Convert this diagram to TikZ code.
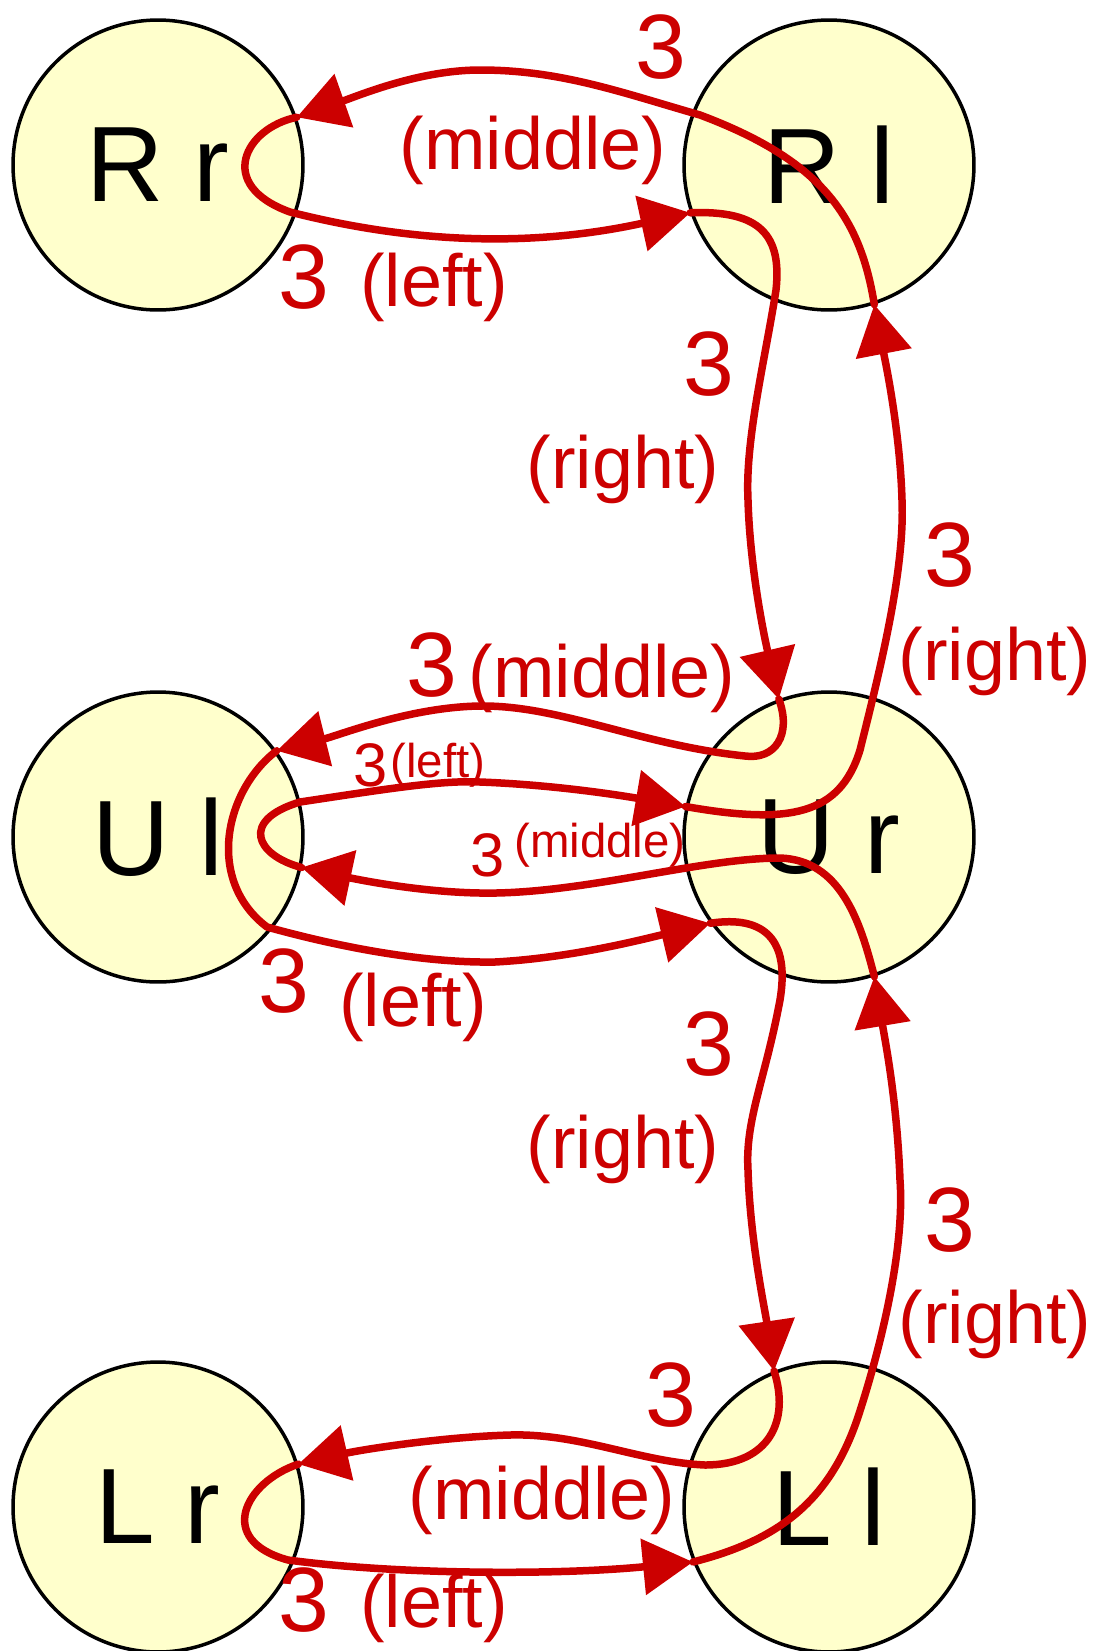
\documentclass[tikz,border=0pt]{standalone}
\usepackage{fontspec}
\setmainfont{Liberation Sans}
\usetikzlibrary{arrows.meta}
\definecolor{statefill}{HTML}{FFFFCC}
\definecolor{edgered}{HTML}{CC0000}
\tikzset{
  state/.style={circle, draw=black, line width=0.07cm, fill=statefill,
    minimum size=5.8cm, inner sep=0pt, font=\fontsize{61}{61}\selectfont},
  trans/.style={draw=edgered, line width=0.15cm,
    -{Triangle[length=1.0cm,width=1.1cm]}},
  num/.style={text=edgered, inner sep=0pt, font=\fontsize{52}{52}\selectfont},
  tag/.style={text=edgered, inner sep=0pt, font=\fontsize{42}{42}\selectfont},
  smallnum/.style={text=edgered, inner sep=0pt, font=\fontsize{35}{35}\selectfont},
  smalltag/.style={text=edgered, inner sep=0pt, font=\fontsize{27}{27}\selectfont},
}
\begin{document}
\begin{tikzpicture}[x=0.02cm, y=-0.02cm, line cap=round, line join=round]
	\useasboundingbox (0,0) rectangle (1103,1651);
	% states
	\node[state] (Rr) at (158,165) {R r};
	\node[state] (Rl) at (829,165) {R l};
	\node[state] (Ul) at (158,837) {U l};
	\node[state] (Ur) at (829,837) {U r};
	\node[state] (Lr) at (158,1507) {L r};
	\node[state] (Ll) at (829,1507) {L l};
	% transitions
	\draw[trans] (Rl.288) .. controls (860,215) and (820,160) .. (700,115)
		.. controls (620,92) and (560,70) .. (480,70)
		.. controls (420,70) and (360,95) .. (Rr.19);
	\draw[trans] (Rr.19) .. controls (245,128) and (215,185) .. (290,212)
		.. controls (400,240) and (520,250) .. (Rl.199);
	\draw[trans] (Rl.199) .. controls (760,210) and (782,235) .. (776,290)
		.. controls (765,360) and (745,440) .. (748,500)
		.. controls (750,570) and (765,640) .. (Ur.110);
	\draw[trans] (Ur.110) .. controls (792,735) and (775,760) .. (745,756)
		.. controls (640,745) and (560,705) .. (480,706)
		.. controls (410,707) and (340,735) .. (Ul.36);
	\draw[trans] (Ul.36) .. controls (225,790) and (205,880) .. (267,927)
		.. controls (350,950) and (430,963) .. (495,962)
		.. controls (570,958) and (640,940) .. (Ur.216);
	\draw[trans] (Ur.216) .. controls (765,915) and (790,940) .. (780,1000)
		.. controls (765,1080) and (745,1120) .. (748,1170)
		.. controls (750,1240) and (765,1310) .. (Ll.112);
	\draw[trans] (Ll.112) .. controls (790,1420) and (770,1465) .. (705,1465)
		.. controls (640,1462) and (580,1433) .. (510,1435)
		.. controls (440,1437) and (360,1450) .. (Lr.17);
	\draw[trans] (Lr.17) .. controls (245,1482) and (215,1540) .. (288,1560)
		.. controls (400,1575) and (560,1575) .. (Ll.202);
	\draw[trans] (Ll.202) .. controls (780,1540) and (830,1500) .. (858,1417)
		.. controls (880,1350) and (905,1250) .. (900,1180)
		.. controls (897,1100) and (885,1040) .. (Ur.288);
	\draw[trans] (Ur.288) .. controls (860,920) and (840,860) .. (780,858)
		.. controls (700,858) and (580,895) .. (480,893)
		.. controls (420,892) and (360,880) .. (Ul.348);
	\draw[trans] (Ul.348) .. controls (255,855) and (240,820) .. (300,802)
		.. controls (380,790) and (440,780) .. (480,782)
		.. controls (560,785) and (630,797) .. (Ur.168);
	\draw[trans] (Ur.168) .. controls (790,825) and (840,815) .. (860,750)
		.. controls (880,670) and (905,570) .. (902,500)
		.. controls (900,430) and (885,360) .. (Rl.288);
	% labels
	\node[num] (n1) at (661,47) {3};
	\node[tag] (t1) at (533,150) {(middle)};
	\node[num] (n2) at (304,277) {3};
	\node[tag] (t2) at (434,287) {(left)};
	\node[num] (n3) at (709,364) {3};
	\node[tag] (t3) at (623,469) {(right)};
	\node[num] (n4) at (950,555) {3};
	\node[tag] (t4) at (995,661) {(right)};
	\node[num] (n5) at (432,665) {3};
	\node[tag] (t5) at (602,678) {(middle)};
	\node[smallnum] (n6) at (371,765) {3};
	\node[smalltag] (t6) at (438,765) {(left)};
	\node[smallnum] (n7) at (488,855) {3};
	\node[smalltag] (t7) at (600,845) {(middle)};
	\node[num] (n8) at (284,981) {3};
	\node[tag] (t8) at (413,1007) {(left)};
	\node[num] (n9) at (709,1044) {3};
	\node[tag] (t9) at (623,1149) {(right)};
	\node[num] (n10) at (950,1220) {3};
	\node[tag] (t10) at (995,1324) {(right)};
	\node[num] (n11) at (671,1395) {3};
	\node[tag] (t11) at (542,1500) {(middle)};
	\node[num] (n12) at (304,1600) {3};
	\node[tag] (t12) at (434,1608) {(left)};
\end{tikzpicture}
\end{document}
